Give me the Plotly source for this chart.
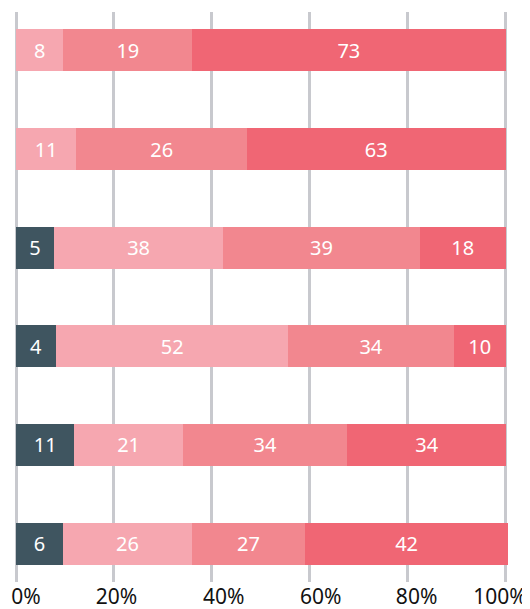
import plotly.graph_objects as go

rows = [0, 1, 2, 3, 4, 5]

# segment shares (%) as drawn
dark = [None, None, 7.8, 8.2, 11.9, 9.6]
light = [9.7, 12.3, 34.5, 47.4, 22.2, 26.35]
mid = [26.3, 34.9, 40.2, 33.9, 33.6, 23.1]
red = [64.0, 52.8, 17.5, 10.5, 32.5, 41.5]

# printed labels
dark_lbl = ["", "", "5", "4", "11", "6"]
light_lbl = ["8", "11", "38", "52", "21", "26"]
mid_lbl = ["19", "26", "39", "34", "34", "27"]
red_lbl = ["73", "63", "18", "10", "34", "42"]

tick_vals = [0, 20, 40, 60, 80, 100]
tick_text = ["0%", "20%", "40%", "60%", "80%", "100%"]

# layout: horizontal pixel nudges of each tick label, as in the original
X_RANGE = [-0.409, 100.715]
PLOT_W = 495
label_nudge_px = [10, 2.5, 12, 11, 9, -5.5]
px_per_unit = PLOT_W / (X_RANGE[1] - X_RANGE[0])
label_pos = [v + d / px_per_unit for v, d in zip(tick_vals, label_nudge_px)]

series = [
    (dark, dark_lbl, "#3f5560"),
    (light, light_lbl, "#f6a7b0"),
    (mid, mid_lbl, "#f2878f"),
    (red, red_lbl, "#f06674"),
]

fig = go.Figure()
for vals, lbls, col in series:
    fig.add_trace(go.Bar(
        y=rows, x=vals, orientation="h",
        marker=dict(color=col, line=dict(width=0)),
        text=lbls, textposition="inside", insidetextanchor="middle",
        textangle=0, constraintext="none",
        textfont=dict(color="white", size=20, family="Noto Sans"),
        width=0.426, hoverinfo="skip", showlegend=False,
    ))

# invisible helper so the label axis is rendered
fig.add_trace(go.Scatter(
    x=[tick_vals[0]], y=[rows[0]], xaxis="x2", mode="markers",
    marker=dict(size=1, opacity=0), hoverinfo="skip", showlegend=False,
))

# the page body adds an 8px offset, so the figure is sized to fit the window
fig.update_layout(
    barmode="stack",
    width=522, height=601,
    margin=dict(l=6, r=21, t=4, b=27),
    paper_bgcolor="white", plot_bgcolor="white",
    uniformtext=dict(minsize=20, mode="show"),
    xaxis=dict(
        range=X_RANGE, tickvals=tick_vals, showticklabels=False,
        showgrid=True, gridcolor="#c8c9ce", gridwidth=2.5,
        zeroline=False, showline=False, ticks="", automargin=False,
    ),
    xaxis2=dict(
        range=X_RANGE, overlaying="x", side="bottom", anchor="y",
        tickvals=label_pos, ticktext=tick_text,
        showgrid=False, zeroline=False, showline=False, ticks="",
        tickfont=dict(size=21, color="#111111", family="Noto Sans"),
        ticklabelstandoff=0, ticklabeloverflow="allow", automargin=False,
    ),
    yaxis=dict(
        range=[5.39, -0.39], showticklabels=False, showgrid=False,
        zeroline=False, showline=False, ticks="", automargin=False,
    ),
)

fig.write_html("out.html")
